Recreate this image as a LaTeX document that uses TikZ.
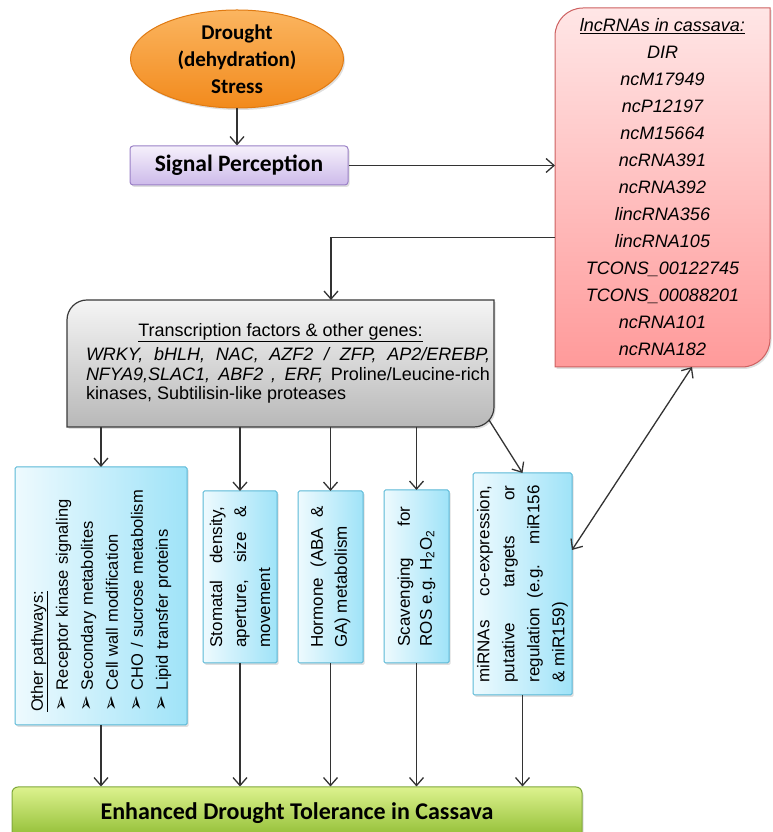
\documentclass[tikz,border=0pt]{standalone}
\usepackage{fontspec}
\setmainfont{Liberation Sans}
\newfontfamily\titlefont{Carlito}
\newfontfamily\dingfont{DejaVu Sans}
\usepackage{tikz}
\usetikzlibrary{arrows.meta,
  shapes.geometric,
  shadows,
  backgrounds,
  calc}

\definecolor{linegray}{HTML}{333333}
\definecolor{orangetop}{HTML}{FBB560}
\definecolor{orangebot}{HTML}{F28A1C}
\definecolor{orangeline}{HTML}{E07A12}
\definecolor{lilactop}{HTML}{F5F0FB}
\definecolor{lilacbot}{HTML}{CDBAEA}
\definecolor{lilacline}{HTML}{9A80C6}
\definecolor{pinktop}{HTML}{FFE6E6}
\definecolor{pinkbot}{HTML}{FF9A9A}
\definecolor{pinkline}{HTML}{CD6060}
\definecolor{greytop}{HTML}{F5F5F5}
\definecolor{greybot}{HTML}{B8B8B8}
\definecolor{greyline}{HTML}{3A3A3A}
\definecolor{aqualeft}{HTML}{EEFAFE}
\definecolor{aquaright}{HTML}{9FE3F8}
\definecolor{aqualine}{HTML}{5AB8D6}
\definecolor{limetop}{HTML}{DDF28E}
\definecolor{limebot}{HTML}{8DBB30}
\definecolor{limeline}{HTML}{7FA83A}

% box with two rounded corners (top left, bottom right) drawn behind a node
\newcommand{\roundcorners}[3]{%
  \path[#3] ([xshift=#2]#1.north west) -- (#1.north east) -- ([yshift=#2]#1.south east)
    arc[start angle=0, end angle=-90, radius=#2] -- (#1.south west)
    -- ([yshift=-#2]#1.north west) arc[start angle=180, end angle=90, radius=#2] -- cycle;}
\newcommand{\pathbullet}{{\dingfont\fontsize{19}{19}\selectfont ➢}\hspace{6pt}}

\begin{document}
\begin{tikzpicture}[x=1pt, y=1pt]
    % Define styles for nodes and arrows
    \tikzstyle{softshadow} = [drop shadow={opacity=0.25, shadow xshift=1.5pt, shadow yshift=-2pt}]
    \tikzstyle{stressbox} = [ellipse, minimum width=213pt, minimum height=98pt, inner xsep=0pt, inner ysep=-12pt, top color=orangetop, bottom color=orangebot, draw=orangeline, line width=1pt, align=center, font=\titlefont\bfseries\fontsize{21}{27}\selectfont, softshadow]
    \tikzstyle{signalbox} = [rectangle, rounded corners=3pt, minimum width=218pt, minimum height=39pt, top color=lilactop, bottom color=lilacbot, draw=lilacline, line width=1pt, font=\titlefont\bfseries\fontsize{23.5}{27}\selectfont, softshadow]
    \tikzstyle{lncbox} = [rectangle, minimum width=215pt, minimum height=359pt, inner sep=0pt, outer sep=0pt, align=center, font=\fontsize{18}{27}\selectfont\itshape]
    \tikzstyle{lncshape} = [top color=pinktop, bottom color=pinkbot, draw=pinkline, line width=1pt, softshadow]
    \tikzstyle{tfbox} = [rectangle, minimum width=427pt, minimum height=127pt, inner sep=0pt, outer sep=0pt, align=center, font=\fontsize{18}{19.5}\selectfont]
    \tikzstyle{tfshape} = [top color=greytop, bottom color=greybot, draw=greyline, line width=1.2pt, softshadow]
    \tikzstyle{pathbox} = [rectangle, rounded corners=1.5pt, left color=aqualeft, right color=aquaright, draw=aqualine, line width=1pt, inner sep=0pt, outer sep=0pt, softshadow]
    \tikzstyle{pathtext} = [rotate=90, inner sep=0pt, align=justify, font=\fontsize{17}{24}\selectfont]
    \tikzstyle{resultbox} = [rectangle, rounded corners=6pt, minimum width=570pt, minimum height=53pt, top color=limetop, bottom color=limebot, draw=limeline, line width=1pt, font=\titlefont\bfseries\fontsize{24}{28}\selectfont, softshadow]
    % Use arrows with open heads
    \tikzstyle{arrow} = [draw=linegray, line width=1.3pt, -{Straight Barb[length=8pt, width=14pt]}]
    \tikzstyle{doubleArrow} = [draw=linegray, line width=1.3pt, {Straight Barb[length=8pt, width=14pt]}-{Straight Barb[length=8pt, width=14pt]}]

    \path[use as bounding box] (0,0) rectangle (772,832);
    \clip (0,0) rectangle (772,832);

    % Nodes
    \node (stress) [stressbox] at (237,773) {Drought\\(dehydration)\\Stress};
    \node (signal) [signalbox] at (239,666.5) {Signal Perception};
    \node (lnc) [lncbox] at (662.5,644.5) {\underline{lncRNAs in cassava:}\\ DIR\\ ncM17949\\ ncP12197\\ ncM15664\\ ncRNA391\\ ncRNA392\\ lincRNA356\\ lincRNA105\\ TCONS\_00122745\\ TCONS\_00088201\\ ncRNA101\\ ncRNA182};
    \node (tf) [tfbox] at (280.5,468.5) {\underline{Transcription factors \& other genes:}\\[5pt]
      \hspace*{15pt}\makebox[404pt][s]{\itshape WRKY, bHLH, NAC, AZF2 / ZFP, AP2/EREBP,}\\
      \hspace*{15pt}\makebox[404pt][s]{\textit{NFYA9,SLAC1, ABF2 , ERF,} Proline/Leucine-rich}\\
      \hspace*{15pt}\makebox[404pt][l]{kinases, Subtilisin-like proteases}};

    \node (other) [pathbox, minimum width=172pt, minimum height=258pt] at (101,236) {};
    \node (othertext) [pathtext, align=left, text width=232pt, font=\fontsize{16.5}{25}\selectfont] at (other) {\underline{Other pathways:}\\ \pathbullet Receptor kinase signaling\\ \pathbullet Secondary metabolites\\ \pathbullet Cell wall modification\\ \pathbullet CHO / sucrose metabolism\\ \pathbullet Lipid transfer proteins};
    \node (stoma) [pathbox, minimum width=74pt, minimum height=172pt] at (240,255) {};
    \node (stomatext) [pathtext, text width=141pt] at (stoma) {Stomatal density,\linebreak aperture, size \&\linebreak movement};
    \node (hormone) [pathbox, minimum width=65pt, minimum height=172pt] at (330.5,255) {};
    \node (hormonetext) [pathtext, text width=142pt] at (hormone) {Hormone (ABA \&\linebreak GA) metabolism};
    \node (ros) [pathbox, minimum width=65pt, minimum height=173pt] at (416.5,255.5) {};
    \node (rostext) [pathtext, text width=140pt, font=\fontsize{17}{22}\selectfont] at (ros) {Scavenging for\linebreak ROS e.g. H\textsubscript{2}O\textsubscript{2}};
    \node (mirna) [pathbox, minimum width=99pt, minimum height=222pt] at (522.5,248) {};
    \node (mirnatext) [pathtext, text width=197pt, font=\fontsize{17}{25}\selectfont] at (mirna) {miRNAs co-expression,\linebreak putative targets or\linebreak regulation (e.g. miR156\linebreak \& miR159)};

    \node (outcome) [resultbox] at (297,18.5) {Enhanced Drought Tolerance in Cassava};

    % Shapes behind the two lists
    \begin{scope}[on background layer]
      \roundcorners{lnc}{28pt}{lncshape}
      \roundcorners{tf}{20pt}{tfshape}
    \end{scope}

    % Arrows (connections)
    \draw [arrow] (stress.south) -- (stress.south |- signal.north);
    \draw [arrow] (signal.east) -- (signal.east -| lnc.west);
    \draw [arrow] ([yshift=-50pt]lnc.west) -| ([xshift=50.5pt]tf.north);
    \draw [arrow] (tf.south -| other.north) -- (other.north);
    \draw [arrow] (tf.south -| stoma.north) -- (stoma.north);
    \draw [arrow] (tf.south -| hormone.north) -- (hormone.north);
    \draw [arrow] (tf.south -| ros.north) -- (ros.north);
    \draw [arrow] ([xshift=-5pt, yshift=7pt]tf.south east) -- (mirna.north);
    \draw [doubleArrow] ([xshift=29.5pt]lnc.south) -- ([yshift=34pt]mirna.east);
    \draw [arrow] (other.south) -- (other.south |- outcome.north);
    \draw [arrow] (stoma.south) -- (stoma.south |- outcome.north);
    \draw [arrow] (hormone.south) -- (hormone.south |- outcome.north);
    \draw [arrow] (ros.south) -- (ros.south |- outcome.north);
    \draw [arrow] (mirna.south) -- (mirna.south |- outcome.north);
\end{tikzpicture}
\end{document}
